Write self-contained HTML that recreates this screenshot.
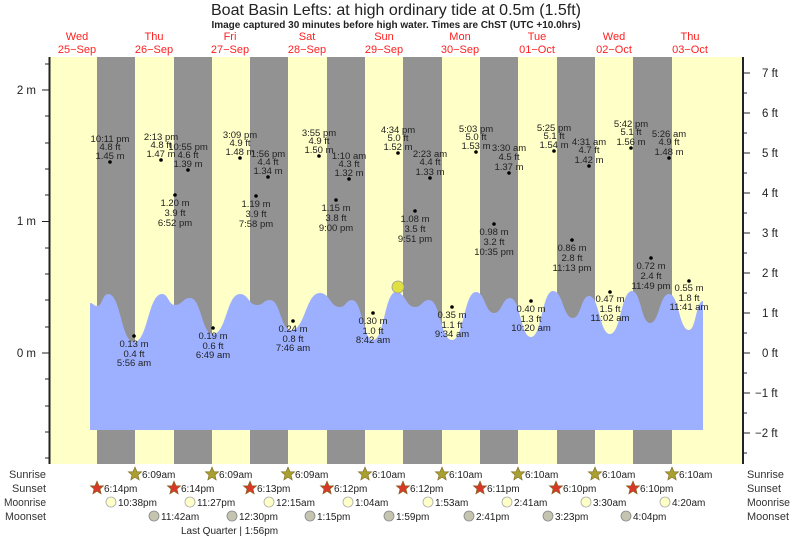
<!DOCTYPE html>
<html><head><meta charset="utf-8"><style>
html,body{margin:0;padding:0;background:#fff;}
svg{display:block;font-family:"Liberation Sans",Arial,sans-serif;}
.l{font-size:9.5px;fill:#222;text-anchor:middle;}
.d{font-size:11px;fill:#ff2020;text-anchor:middle;}
.ax{font-size:11.5px;fill:#222;}
.b{font-size:10px;fill:#222;}
.rl{font-size:11px;fill:#333;}
</style></head><body>
<svg width="793" height="538" viewBox="0 0 793 538">
<text x="396" y="15" font-size="16" fill="#222" text-anchor="middle">Boat Basin Lefts: at high  ordinary tide at 0.5m (1.5ft)</text>
<text x="396" y="28" font-size="10" font-weight="bold" fill="#222" text-anchor="middle">Image captured 30 minutes before high water. Times are ChST (UTC +10.0hrs)</text>
<g class="d">
<text x="77" y="40">Wed</text><text x="77" y="53">25−Sep</text>
<text x="154" y="40">Thu</text><text x="154" y="53">26−Sep</text>
<text x="230" y="40">Fri</text><text x="230" y="53">27−Sep</text>
<text x="307" y="40">Sat</text><text x="307" y="53">28−Sep</text>
<text x="384" y="40">Sun</text><text x="384" y="53">29−Sep</text>
<text x="460" y="40">Mon</text><text x="460" y="53">30−Sep</text>
<text x="537" y="40">Tue</text><text x="537" y="53">01−Oct</text>
<text x="614" y="40">Wed</text><text x="614" y="53">02−Oct</text>
<text x="690" y="40">Thu</text><text x="690" y="53">03−Oct</text>
</g>
<rect x="50" y="57" width="693" height="407" fill="#ffffc8"/>
<g fill="#929292">
<rect x="97" y="57" width="38" height="407"/><rect x="174" y="57" width="38" height="407"/>
<rect x="250" y="57" width="38" height="407"/><rect x="327" y="57" width="38" height="407"/>
<rect x="403" y="57" width="39" height="407"/><rect x="480" y="57" width="38" height="407"/>
<rect x="557" y="57" width="38" height="407"/><rect x="633" y="57" width="39" height="407"/>
</g>
<path fill="#9db0ff" d="M90,303 C93.5,303 93.5,306 97,306 C102.5,306 102.5,294 108,294 C121,294 121,342 134,342 C148,342 148,294 162,294 C168.5,294 168.5,305 175,305 C182.5,305 182.5,298 190,298 C201.5,298 201.5,334 213,334 C226.5,334 226.5,294 240,294 C248.5,294 248.5,305 257,305 C263.5,305 263.5,300 270,300 C280.5,300 280.5,330 291,330 C305.5,330 305.5,293 320,293 C330,293 330,307 340,307 C346,307 346,300 352,300 C362.5,300 362.5,340 373,340 C384.5,340 384.5,292 396,292 C405.5,292 405.5,307 415,307 C422,307 422,300 429,300 C440.5,300 440.5,340 452,340 C464,340 464,292 476,292 C485,292 485,313 494,313 C502,313 502,298 510,298 C520.5,298 520.5,337 531,337 C542,337 542,291 553,291 C563,291 563,318 573,318 C581,318 581,296 589,296 C599.5,296 599.5,334 610,334 C621,334 621,291 632,291 C641,291 641,323 650,323 C659.5,323 659.5,294 669,294 C679,294 679,330 689,330 C696,330 696,301 703,301 L703,430 L90,430 Z"/>
<circle cx="398" cy="287" r="6" fill="#e0e040" stroke="#999" stroke-width="0.8"/>
<line x1="49.5" y1="57" x2="49.5" y2="464" stroke="#222" stroke-width="2"/>
<line x1="743" y1="57" x2="743" y2="464" stroke="#222" stroke-width="2"/>
<g stroke="#222" stroke-width="1">
<line x1="42" y1="90" x2="49" y2="90"/><line x1="42" y1="221.5" x2="49" y2="221.5"/><line x1="42" y1="353" x2="49" y2="353"/>
<line x1="45" y1="64" x2="49" y2="64"/><line x1="45" y1="116" x2="49" y2="116"/><line x1="45" y1="143" x2="49" y2="143"/><line x1="45" y1="169" x2="49" y2="169"/><line x1="45" y1="195" x2="49" y2="195"/><line x1="45" y1="248" x2="49" y2="248"/><line x1="45" y1="274" x2="49" y2="274"/><line x1="45" y1="300" x2="49" y2="300"/><line x1="45" y1="327" x2="49" y2="327"/><line x1="45" y1="379" x2="49" y2="379"/><line x1="45" y1="406" x2="49" y2="406"/><line x1="45" y1="432" x2="49" y2="432"/><line x1="45" y1="458" x2="49" y2="458"/>
<line x1="743" y1="73" x2="750" y2="73"/><line x1="743" y1="113" x2="750" y2="113"/><line x1="743" y1="153" x2="750" y2="153"/><line x1="743" y1="193" x2="750" y2="193"/><line x1="743" y1="233" x2="750" y2="233"/><line x1="743" y1="273" x2="750" y2="273"/><line x1="743" y1="313" x2="750" y2="313"/><line x1="743" y1="353" x2="750" y2="353"/><line x1="743" y1="393" x2="750" y2="393"/><line x1="743" y1="433" x2="750" y2="433"/>
<line x1="743" y1="93" x2="747" y2="93"/><line x1="743" y1="133" x2="747" y2="133"/><line x1="743" y1="173" x2="747" y2="173"/><line x1="743" y1="213" x2="747" y2="213"/><line x1="743" y1="253" x2="747" y2="253"/><line x1="743" y1="293" x2="747" y2="293"/><line x1="743" y1="333" x2="747" y2="333"/><line x1="743" y1="373" x2="747" y2="373"/><line x1="743" y1="413" x2="747" y2="413"/><line x1="743" y1="453" x2="747" y2="453"/>
</g>
<g class="ax" text-anchor="end">
<text x="36" y="94">2 m</text><text x="36" y="225">1 m</text><text x="36" y="357">0 m</text>
</g>
<g class="ax">
<text x="762" y="77">7 ft</text><text x="762" y="117">6 ft</text><text x="762" y="157">5 ft</text><text x="762" y="197">4 ft</text><text x="762" y="237">3 ft</text><text x="762" y="277">2 ft</text><text x="762" y="317">1 ft</text><text x="762" y="357">0 ft</text><text x="755" y="397">−1 ft</text><text x="755" y="437">−2 ft</text>
</g>
<g fill="#000">
<circle cx="110" cy="162" r="1.8"/><circle cx="161" cy="160" r="1.8"/><circle cx="188" cy="170" r="1.8"/><circle cx="240" cy="158" r="1.8"/><circle cx="268" cy="177" r="1.8"/><circle cx="319" cy="156" r="1.8"/><circle cx="349" cy="179" r="1.8"/><circle cx="398" cy="153" r="1.8"/><circle cx="430" cy="178" r="1.8"/><circle cx="476" cy="152" r="1.8"/><circle cx="509" cy="173" r="1.8"/><circle cx="554" cy="151" r="1.8"/><circle cx="589" cy="166" r="1.8"/><circle cx="631" cy="148" r="1.8"/><circle cx="669" cy="158" r="1.8"/>
<circle cx="175" cy="195" r="1.8"/><circle cx="256" cy="196" r="1.8"/><circle cx="336" cy="200" r="1.8"/><circle cx="415" cy="211" r="1.8"/><circle cx="494" cy="224" r="1.8"/><circle cx="572" cy="240" r="1.8"/><circle cx="651" cy="258" r="1.8"/>
<circle cx="134" cy="336" r="1.8"/><circle cx="213" cy="328" r="1.8"/><circle cx="293" cy="321" r="1.8"/><circle cx="373" cy="313" r="1.8"/><circle cx="452" cy="307" r="1.8"/><circle cx="531" cy="301" r="1.8"/><circle cx="610" cy="292" r="1.8"/><circle cx="689" cy="281" r="1.8"/>
</g>
<g class="l">
<text x="110" y="142">10:11 pm</text><text x="110" y="150">4.8 ft</text><text x="110" y="159">1.45 m</text>
<text x="161" y="140">2:13 pm</text><text x="161" y="148">4.8 ft</text><text x="161" y="157">1.47 m</text>
<text x="188" y="150">10:55 pm</text><text x="188" y="158">4.6 ft</text><text x="188" y="167">1.39 m</text>
<text x="240" y="138">3:09 pm</text><text x="240" y="146">4.9 ft</text><text x="240" y="155">1.48 m</text>
<text x="268" y="157">1:56 pm</text><text x="268" y="165">4.4 ft</text><text x="268" y="174">1.34 m</text>
<text x="319" y="136">3:55 pm</text><text x="319" y="144">4.9 ft</text><text x="319" y="153">1.50 m</text>
<text x="349" y="159">1:10 am</text><text x="349" y="167">4.3 ft</text><text x="349" y="176">1.32 m</text>
<text x="398" y="133">4:34 pm</text><text x="398" y="141">5.0 ft</text><text x="398" y="150">1.52 m</text>
<text x="430" y="157">2:23 am</text><text x="430" y="165">4.4 ft</text><text x="430" y="175">1.33 m</text>
<text x="476" y="132">5:03 pm</text><text x="476" y="140">5.0 ft</text><text x="476" y="149">1.53 m</text>
<text x="509" y="151">3:30 am</text><text x="509" y="160">4.5 ft</text><text x="509" y="170">1.37 m</text>
<text x="554" y="131">5:25 pm</text><text x="554" y="139">5.1 ft</text><text x="554" y="148">1.54 m</text>
<text x="589" y="145">4:31 am</text><text x="589" y="153">4.7 ft</text><text x="589" y="163">1.42 m</text>
<text x="631" y="127">5:42 pm</text><text x="631" y="135">5.1 ft</text><text x="631" y="145">1.56 m</text>
<text x="669" y="137">5:26 am</text><text x="669" y="145">4.9 ft</text><text x="669" y="155">1.48 m</text>
<text x="175" y="206">1.20 m</text><text x="175" y="216">3.9 ft</text><text x="175" y="226">6:52 pm</text>
<text x="256" y="207">1.19 m</text><text x="256" y="217">3.9 ft</text><text x="256" y="227">7:58 pm</text>
<text x="336" y="211">1.15 m</text><text x="336" y="221">3.8 ft</text><text x="336" y="231">9:00 pm</text>
<text x="415" y="222">1.08 m</text><text x="415" y="232">3.5 ft</text><text x="415" y="242">9:51 pm</text>
<text x="494" y="235">0.98 m</text><text x="494" y="245">3.2 ft</text><text x="494" y="255">10:35 pm</text>
<text x="572" y="251">0.86 m</text><text x="572" y="261">2.8 ft</text><text x="572" y="271">11:13 pm</text>
<text x="651" y="269">0.72 m</text><text x="651" y="279">2.4 ft</text><text x="651" y="289">11:49 pm</text>
<text x="134" y="347">0.13 m</text><text x="134" y="357">0.4 ft</text><text x="134" y="366">5:56 am</text>
<text x="213" y="339">0.19 m</text><text x="213" y="349">0.6 ft</text><text x="213" y="358">6:49 am</text>
<text x="293" y="332">0.24 m</text><text x="293" y="342">0.8 ft</text><text x="293" y="351">7:46 am</text>
<text x="373" y="324">0.30 m</text><text x="373" y="334">1.0 ft</text><text x="373" y="343">8:42 am</text>
<text x="452" y="318">0.35 m</text><text x="452" y="328">1.1 ft</text><text x="452" y="337">9:34 am</text>
<text x="531" y="312">0.40 m</text><text x="531" y="322">1.3 ft</text><text x="531" y="331">10:20 am</text>
<text x="610" y="302">0.47 m</text><text x="610" y="312">1.5 ft</text><text x="610" y="321">11:02 am</text>
<text x="689" y="291">0.55 m</text><text x="689" y="301">1.8 ft</text><text x="689" y="310">11:41 am</text>
</g>
<g class="rl" text-anchor="end">
<text x="46" y="478" textLength="37" lengthAdjust="spacingAndGlyphs">Sunrise</text><text x="46" y="492" textLength="34" lengthAdjust="spacingAndGlyphs">Sunset</text><text x="46" y="506" textLength="42" lengthAdjust="spacingAndGlyphs">Moonrise</text><text x="46" y="520" textLength="41" lengthAdjust="spacingAndGlyphs">Moonset</text>
</g>
<g class="rl">
<text x="747" y="478" textLength="37" lengthAdjust="spacingAndGlyphs">Sunrise</text><text x="747" y="492" textLength="34" lengthAdjust="spacingAndGlyphs">Sunset</text><text x="747" y="506" textLength="43" lengthAdjust="spacingAndGlyphs">Moonrise</text><text x="747" y="520" textLength="42" lengthAdjust="spacingAndGlyphs">Moonset</text>
</g>
<defs>
<polygon id="st" points="0,-7 2,-2.2 6.7,-2.2 3,1 4.2,6 0,3.2 -4.2,6 -3,1 -6.7,-2.2 -2,-2.2"/>
</defs>
<g fill="#a8a030" stroke="#806a20" stroke-width="0.6">
<use href="#st" x="135" y="474"/><use href="#st" x="212" y="474"/><use href="#st" x="288" y="474"/><use href="#st" x="365" y="474"/><use href="#st" x="442" y="474"/><use href="#st" x="518" y="474"/><use href="#st" x="595" y="474"/><use href="#st" x="672" y="474"/>
</g>
<g fill="#d83828" stroke="#806a20" stroke-width="0.6">
<use href="#st" x="97" y="488"/><use href="#st" x="174" y="488"/><use href="#st" x="250" y="488"/><use href="#st" x="327" y="488"/><use href="#st" x="403" y="488"/><use href="#st" x="480" y="488"/><use href="#st" x="556" y="488"/><use href="#st" x="633" y="488"/>
</g>
<g fill="#ffffc8" stroke="#aaa" stroke-width="0.8">
<circle cx="111" cy="502" r="5"/><circle cx="190" cy="502" r="5"/><circle cx="269" cy="502" r="5"/><circle cx="348" cy="502" r="5"/><circle cx="428" cy="502" r="5"/><circle cx="507" cy="502" r="5"/><circle cx="586" cy="502" r="5"/><circle cx="665" cy="502" r="5"/>
</g>
<g fill="#c4c4b0" stroke="#888" stroke-width="0.8">
<circle cx="154" cy="516" r="5"/><circle cx="232" cy="516" r="5"/><circle cx="310" cy="516" r="5"/><circle cx="389" cy="516" r="5"/><circle cx="469" cy="516" r="5"/><circle cx="548" cy="516" r="5"/><circle cx="626" cy="516" r="5"/>
</g>
<g class="b">
<text x="142" y="478">6:09am</text><text x="219" y="478">6:09am</text><text x="295" y="478">6:09am</text><text x="372" y="478">6:10am</text><text x="449" y="478">6:10am</text><text x="525" y="478">6:10am</text><text x="602" y="478">6:10am</text><text x="679" y="478">6:10am</text>
<text x="104" y="492">6:14pm</text><text x="181" y="492">6:14pm</text><text x="257" y="492">6:13pm</text><text x="334" y="492">6:12pm</text><text x="410" y="492">6:12pm</text><text x="487" y="492">6:11pm</text><text x="563" y="492">6:10pm</text><text x="640" y="492">6:10pm</text>
<text x="118" y="506">10:38pm</text><text x="197" y="506">11:27pm</text><text x="276" y="506">12:15am</text><text x="355" y="506">1:04am</text><text x="435" y="506">1:53am</text><text x="514" y="506">2:41am</text><text x="593" y="506">3:30am</text><text x="672" y="506">4:20am</text>
<text x="161" y="520">11:42am</text><text x="239" y="520">12:30pm</text><text x="317" y="520">1:15pm</text><text x="396" y="520">1:59pm</text><text x="476" y="520">2:41pm</text><text x="555" y="520">3:23pm</text><text x="633" y="520">4:04pm</text>
<text x="181" y="534">Last Quarter | 1:56pm</text>
</g>
</svg>
</body></html>
